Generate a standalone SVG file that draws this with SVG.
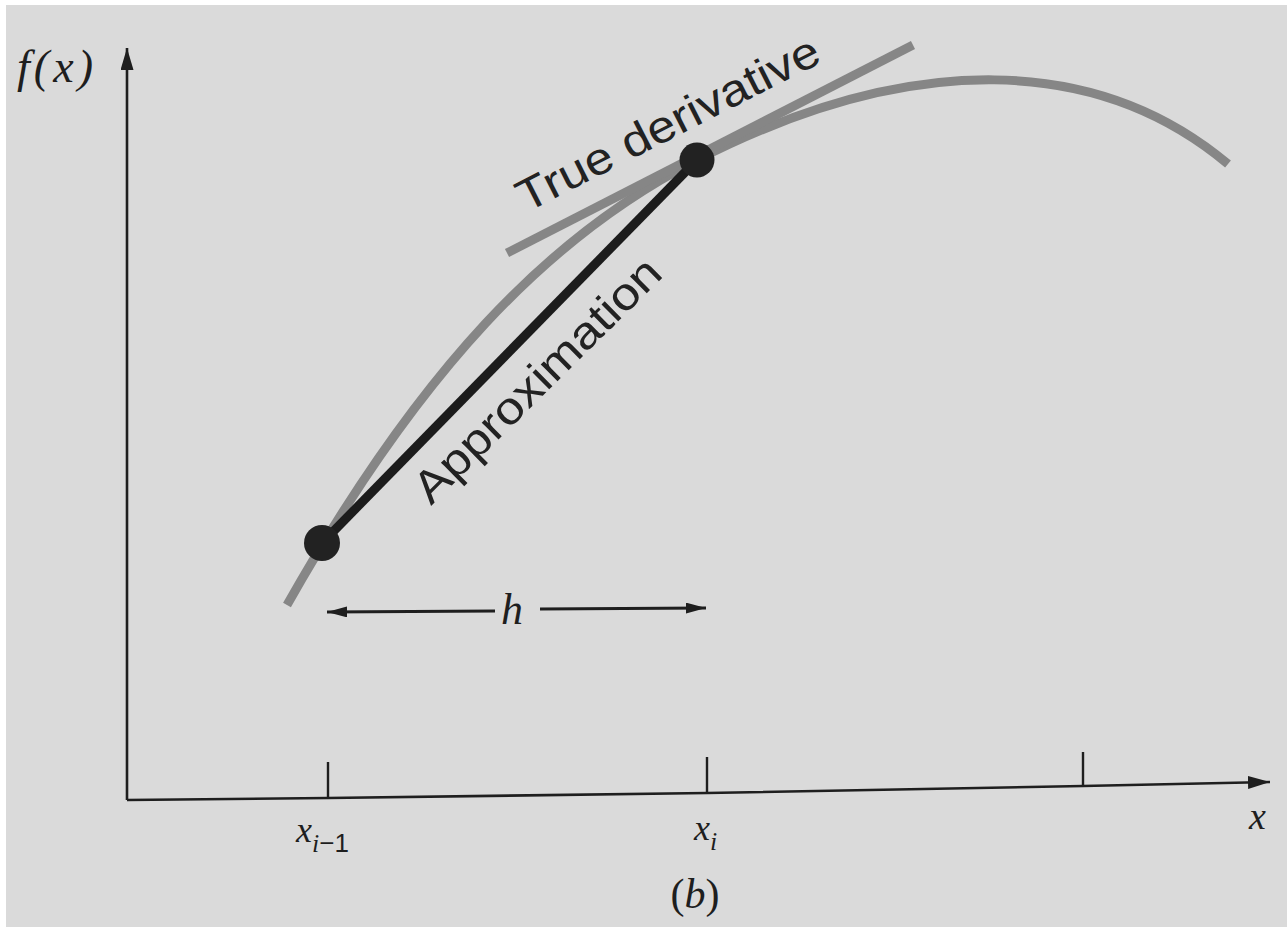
<svg xmlns="http://www.w3.org/2000/svg" width="1287" height="927" viewBox="0 0 1287 927">
<style>
.axis{stroke:#1e1e1e;stroke-width:2.6;fill:none}
.tick{stroke:#1e1e1e;stroke-width:2.4}
.gray{stroke:#868686;stroke-width:9;fill:none;stroke-linecap:butt}
.black{stroke:#1c1c1c;stroke-width:9;fill:none}
.dot{fill:#222}
.math{font-family:"Liberation Serif",serif;font-style:italic;fill:#1e1e1e}
.sans{font-family:"Liberation Sans",Arial,sans-serif;fill:#222}
.serif{font-family:"Liberation Serif",serif;fill:#1e1e1e}
</style>
<defs>
<marker id="ah" viewBox="0 0 10 10" refX="10" refY="5" markerWidth="20" markerHeight="11" markerUnits="userSpaceOnUse" orient="auto" preserveAspectRatio="none">
<path d="M0,0 L10,5 L0,10 z" fill="#1e1e1e"/>
</marker>
<marker id="big" viewBox="0 0 10 10" refX="10" refY="5" markerWidth="22" markerHeight="13" markerUnits="userSpaceOnUse" orient="auto" preserveAspectRatio="none">
<path d="M0,0 L10,5 L0,10 z" fill="#1e1e1e"/>
</marker>
</defs>
<rect x="0" y="0" width="1287" height="927" fill="#ffffff"/>
<rect x="6" y="5" width="1281" height="922" fill="#dadada"/>

<g id="axes">
<path class="axis" d="M127,800 L127,48" marker-end="url(#big)"/>
<path class="axis" d="M127,800 L328,798 L707,793 L1083,786 L1270,782" marker-end="url(#big)"/>
<line class="tick" x1="328" y1="762" x2="328" y2="798"/>
<line class="tick" x1="707" y1="757" x2="707" y2="793"/>
<line class="tick" x1="1083" y1="752" x2="1083" y2="786"/>
</g>

<g id="curve">
<path class="gray" d="M287,605 C420,370 547,237 697,160 C912,50 1098,55 1228,164"/>
</g>

<g id="tangent">
<line class="gray" x1="507" y1="253" x2="913" y2="45"/>
</g>

<g id="approximation">
<line class="black" x1="322" y1="543" x2="697" y2="160"/>
</g>

<g id="points">
<circle class="dot" cx="322" cy="543" r="18"/>
<circle class="dot" cx="697" cy="160" r="17.5"/>
</g>

<g id="connectors">
<line x1="495" y1="611" x2="327" y2="612" stroke="#1e1e1e" stroke-width="3" marker-end="url(#ah)"/>
<line x1="540" y1="609" x2="706" y2="608" stroke="#1e1e1e" stroke-width="3" marker-end="url(#ah)"/>
</g>

<g id="labels">
<text class="math" x="17" y="82" font-size="46" textLength="76" lengthAdjust="spacing">f(x)</text>
<text class="math" x="512" y="624" font-size="44" text-anchor="middle">h</text>
<text class="math" x="296" y="842" font-size="36">x<tspan font-size="26" dy="10">i</tspan><tspan font-size="26" font-style="normal" font-family="Liberation Sans, sans-serif">−1</tspan></text>
<text class="math" x="694" y="840" font-size="36">x<tspan font-size="26" dy="10">i</tspan></text>
<text class="math" x="1249" y="829" font-size="38">x</text>
<text class="serif" x="695" y="908" font-size="42" text-anchor="middle">(<tspan font-style="italic">b</tspan>)</text>
<text class="sans" font-size="45" transform="translate(526,213) rotate(-27)" textLength="334" lengthAdjust="spacingAndGlyphs">True derivative</text>
<text class="sans" font-size="45" transform="translate(431,506) rotate(-44.6)" textLength="328" lengthAdjust="spacingAndGlyphs">Approximation</text>
</g>
</svg>
